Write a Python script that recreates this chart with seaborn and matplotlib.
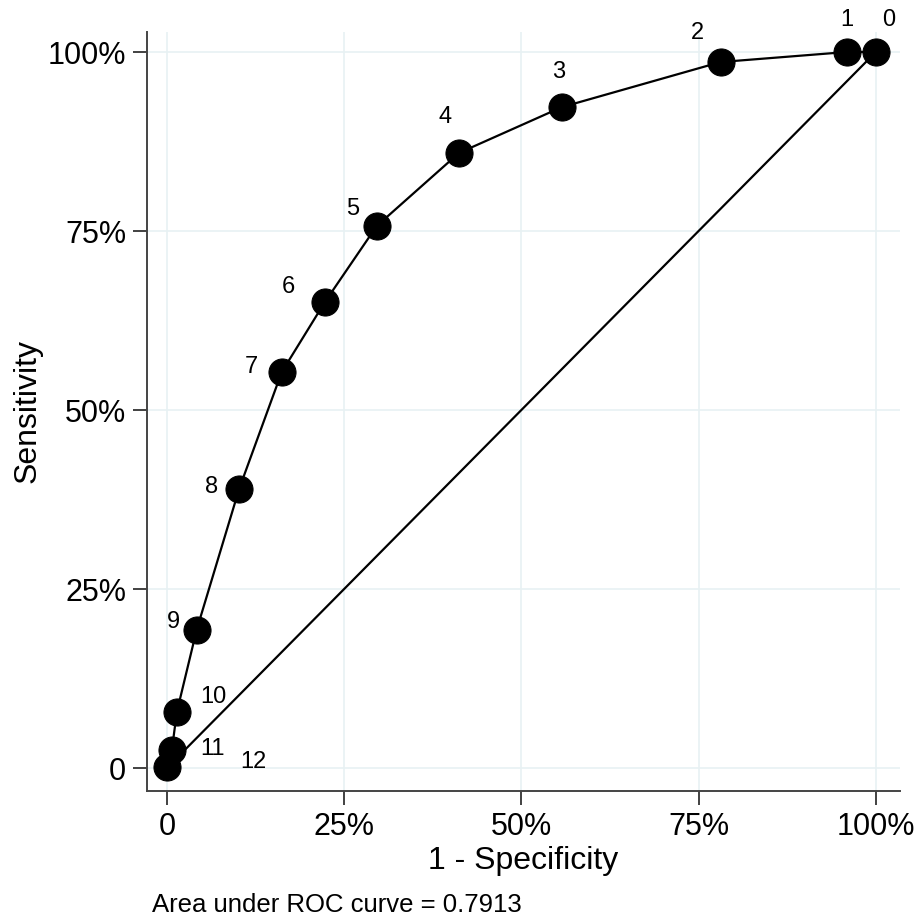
import numpy as np
import pandas as pd
import matplotlib
matplotlib.use("Agg")
import matplotlib.pyplot as plt
import seaborn as sns

# ROC points (percent)
cutpoints = ["0", "1", "2", "3", "4", "5", "6", "7", "8", "9", "10", "11", "12"]
fpr = [100.0, 95.9, 78.1, 55.7, 41.2, 29.6, 22.3, 16.2, 10.2, 4.2, 1.4, 0.7, 0.0]
tpr = [100.0, 100.0, 98.6, 92.3, 85.9, 75.7, 65.1, 55.3, 39.0, 19.3, 7.8, 2.5, 0.1]
ticks = [0, 25, 50, 75, 100]
tick_labels = ["0", "25%", "50%", "75%", "100%"]
auc_text = "Area under ROC curve = 0.7913"

# label offsets (points) for each cutpoint marker
label_offsets = [(9, 23), (0, 23), (-17, 21), (-2, 25), (-10, 26), (-17, 12),
                 (-26, 11), (-22, 4), (-20, 1), (-17, 6), (26, 11), (29, 1), (62, 4)]

roc_df = pd.DataFrame({"fpr": fpr, "tpr": tpr, "cut": cutpoints})

sns.set_style("white")
plt.rcParams["font.family"] = ["Liberation Sans", "DejaVu Sans"]
plt.rcParams["text.color"] = "black"
plt.rcParams["axes.labelcolor"] = "black"
plt.rcParams["xtick.labelcolor"] = "black"
plt.rcParams["ytick.labelcolor"] = "black"

fig = plt.figure(figsize=(9.23, 9.21), dpi=100)
ax = fig.add_axes([0.1593, 0.1412, 0.8157, 0.8241])

# faint grid lines at ticks
for t in ticks:
    ax.axvline(t, color="#e8f1f3", lw=1.2, zorder=0)
    ax.axhline(t, color="#e8f1f3", lw=1.2, zorder=0)

# reference diagonal
sns.lineplot(x=[0, 100], y=[0, 100], color="black", lw=1.6, ax=ax, zorder=2)

# ROC curve with markers
sns.lineplot(data=roc_df, x="fpr", y="tpr", sort=False, color="black", lw=1.6,
             marker="o", markersize=19.5, markeredgecolor="black", ax=ax, zorder=3)

for c, x, y, off in zip(cutpoints, fpr, tpr, label_offsets):
    ax.annotate(c, (x, y), xytext=off, textcoords="offset points",
                ha="center", va="center", fontsize=17, color="black")

ax.set_xlim(-2.8, 103.4)
ax.set_ylim(-3.2, 102.8)
ax.set_xticks(ticks)
ax.set_xticklabels(tick_labels)
ax.set_yticks(ticks)
ax.set_yticklabels(tick_labels)
ax.tick_params(axis="both", length=10, width=1.3, color="#333333", labelsize=22,
               labelcolor="black", direction="out", bottom=True, left=True, pad=5)

for side in ["top", "right"]:
    ax.spines[side].set_visible(False)
for side in ["left", "bottom"]:
    ax.spines[side].set_color("#444444")
    ax.spines[side].set_linewidth(1.4)

ax.set_xlabel("1 - Specificity", fontsize=23, labelpad=3, color="black")
ax.set_ylabel("Sensitivity", fontsize=23, labelpad=4, color="black")

fig.text(0.165, 0.004, auc_text, fontsize=18.5, ha="left", va="bottom", color="black")

fig.savefig("out.png", dpi=100)
